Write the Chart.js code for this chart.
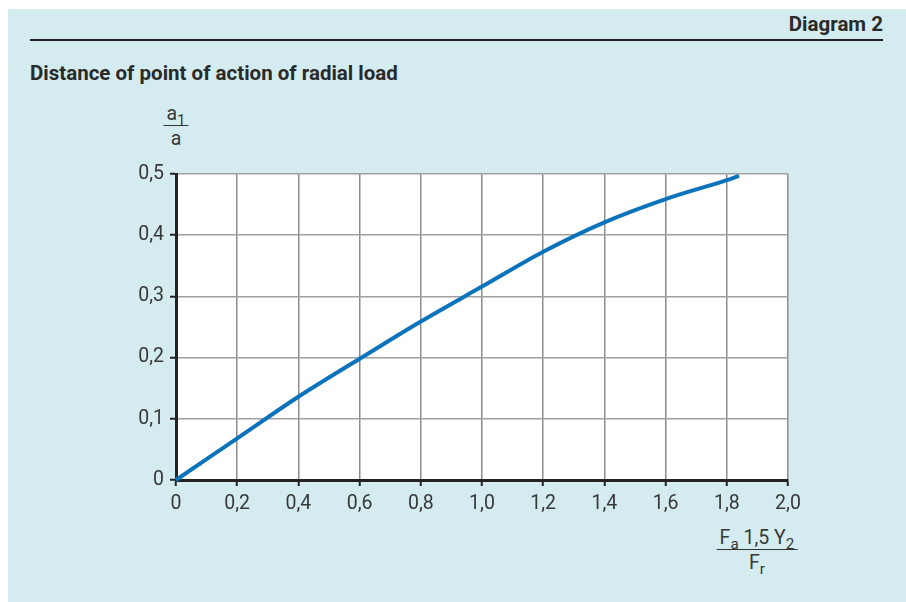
<!DOCTYPE html>
<html>
<head>
<meta charset="utf-8">
<script src="https://cdn.jsdelivr.net/npm/chart.js@4.4.1/dist/chart.umd.min.js"></script>
<style>
  html, body { margin: 0; padding: 0; background: #fff; }
  #wrap { position: relative; width: 906px; height: 602px; overflow: hidden;
          font-family: Roboto, "Noto Sans", sans-serif; color: #2a2a2a; }
  #panel { position: absolute; left: 8px; top: 9px; right: 0; bottom: 0; background: #d4ecf0; }
  #chart { position: absolute; left: 0; top: 0; }
  .rule { position: absolute; left: 30px; top: 39px; width: 853px; height: 1.5px; background: #222; }
  .head { position: absolute; right: 23px; top: 14px; font-size: 20.5px; line-height: 20px; font-weight: bold; }
  .title { position: absolute; left: 30px; top: 63px; font-size: 20.5px; line-height: 20px; font-weight: bold; }
  .frac { position: absolute; transform: translateX(-50%); text-align: center;
          font-size: 19.5px; line-height: 21px; color: #383838; white-space: nowrap; }
  .frac .num { border-bottom: 1.5px solid #333; padding: 0 3px 1px 3px; }
  .frac .den { padding-top: 2px; }
  .frac sub { font-size: 0.78em; vertical-align: -0.3em; line-height: 0; }
</style>
</head>
<body>
<div id="wrap">
  <div id="panel"></div>
  <div class="head">Diagram 2</div>
  <div class="rule"></div>
  <div class="title">Distance of point of action of radial load</div>
  <div class="frac" style="left:176px; top:103px;">
    <div class="num">a<sub>1</sub></div>
    <div class="den">a</div>
  </div>
  <div class="frac" style="left:757px; top:527px;">
    <div class="num">F<sub>a</sub> 1,5 Y<sub>2</sub></div>
    <div class="den">F<sub>r</sub></div>
  </div>
  <canvas id="chart" width="906" height="602"></canvas>
</div>
<script>
// curve a1/a against Fa*1,5*Y2/Fr
var xValues = [0, 0.2, 0.4, 0.6, 0.8, 1.0, 1.2, 1.4, 1.6, 1.8, 1.84];
var yValues = [0, 0.068, 0.136, 0.198, 0.259, 0.316, 0.373, 0.421, 0.459, 0.490, 0.497];

var xTickLabels = ['0', '0,2', '0,4', '0,6', '0,8', '1,0', '1,2', '1,4', '1,6', '1,8', '2,0'];
var yTickLabels = ['0', '0,1', '0,2', '0,3', '0,4', '0,5'];

var points = [];
for (var i = 0; i < xValues.length; i++) {
  points.push({ x: xValues[i], y: yValues[i] });
}

// white plot area behind the grid
var plotBackground = {
  id: 'plotBackground',
  beforeDraw: function(chart) {
    var a = chart.chartArea;
    var ctx = chart.ctx;
    ctx.save();
    ctx.fillStyle = '#ffffff';
    ctx.fillRect(a.left, a.top, a.right - a.left, a.bottom - a.top);
    ctx.restore();
  }
};

var tickFont = { family: 'Roboto, "Noto Sans", sans-serif', size: 19.5 };

var ctx = document.getElementById('chart');
var curveChart = new Chart(ctx, {
  type: 'line',
  data: {
    datasets: [{
      data: points,
      borderColor: '#0b72bc',
      borderWidth: 4,
      pointRadius: 0,
      fill: false,
      cubicInterpolationMode: 'monotone',
      clip: false
    }]
  },
  options: {
    responsive: false,
    animation: false,
    events: [],
    layout: { padding: { left: 0, right: 118, top: 174, bottom: 82 } },
    plugins: { legend: { display: false }, tooltip: { enabled: false } },
    scales: {
      x: {
        type: 'linear',
        min: 0,
        max: 2,
        afterFit: function(scale) { scale.height = 40; },
        ticks: {
          stepSize: 0.2,
          padding: 6,
          color: '#383838',
          font: tickFont,
          callback: function(value, index) { return xTickLabels[index]; }
        },
        grid: {
          color: '#8c8c8c',
          lineWidth: 1.5,
          tickLength: 6,
          tickColor: '#222',
          tickWidth: 2
        },
        border: { color: '#222', width: 3 }
      },
      y: {
        type: 'linear',
        min: 0,
        max: 0.5,
        afterFit: function(scale) { scale.width = 176; },
        ticks: {
          stepSize: 0.1,
          padding: 6,
          color: '#383838',
          font: tickFont,
          callback: function(value, index) { return yTickLabels[index]; }
        },
        grid: {
          color: '#a0a0a0',
          lineWidth: 1.5,
          tickLength: 6,
          tickColor: '#222',
          tickWidth: 2
        },
        border: { color: '#222', width: 3 }
      }
    }
  },
  plugins: [plotBackground]
});
</script>
</body>
</html>
